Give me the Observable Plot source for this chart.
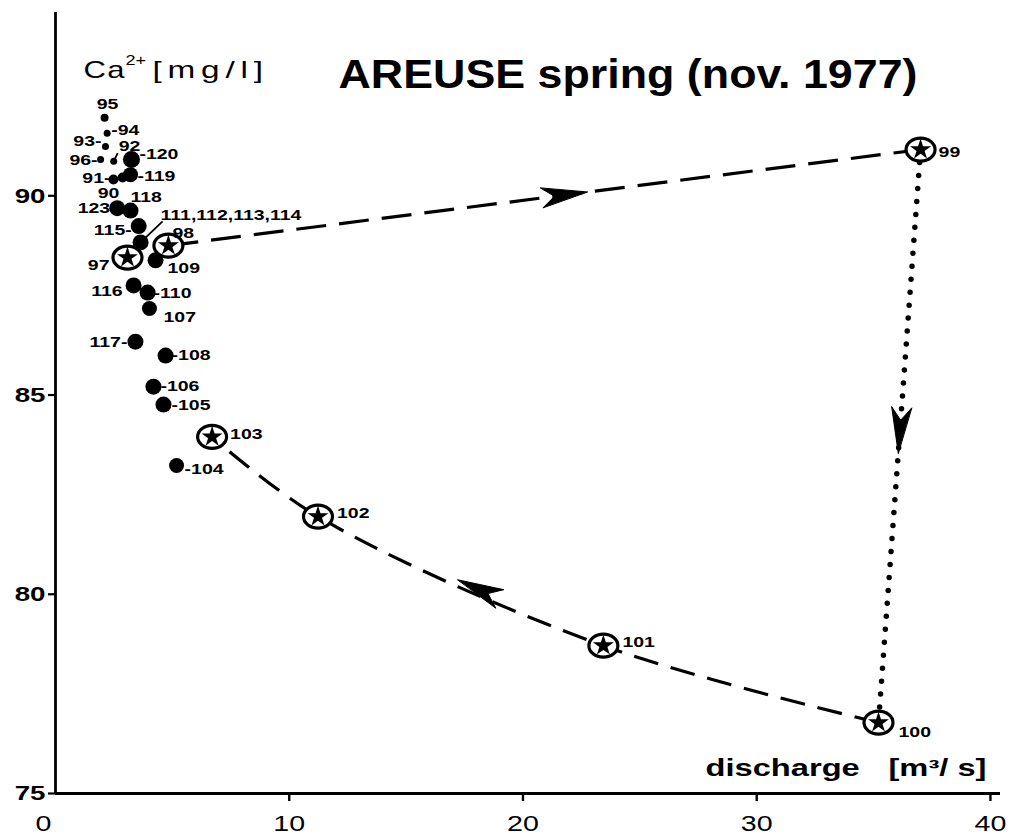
<!DOCTYPE html>
<html>
<head>
<meta charset="utf-8">
<script src="https://cdn.jsdelivr.net/npm/d3@7"></script>
<script src="https://cdn.jsdelivr.net/npm/@observablehq/plot@0.6"></script>
<style>
  html, body { margin: 0; padding: 0; background: #fff; }
  #chart svg { display: block; }
</style>
</head>
<body>
<div id="chart"></div>
<script>
// ---------------- DATA ----------------
// daily samples (sample number, discharge m3/s, Ca2+ mg/l)
const sampleIds = ["95","94","93","92","96","120","119","91","90","123","118","115","111,112,113,114","109","116","110","107","117","108","106","105","104"];
const sampleQ   = [2.10, 2.21, 2.14, 2.49, 1.93, 3.25, 3.21, 2.48, 2.87, 2.64, 3.21, 3.56, 3.64, 4.28, 3.34, 3.94, 4.02, 3.42, 4.71, 4.19, 4.62, 5.18];
const sampleCa  = [91.96, 91.57, 91.24, 90.87, 90.91, 90.91, 90.53, 90.41, 90.46, 89.69, 89.63, 89.24, 88.83, 88.38, 87.75, 87.57, 87.17, 86.34, 85.99, 85.21, 84.76, 83.23];

// flood event samples (star symbols)
const eventIds = ["97","98","99","100","101","102","103"];
const eventQ   = [3.08, 4.83, 37.01, 35.21, 23.44, 11.23, 6.70];
const eventCa  = [88.45, 88.75, 91.16, 76.78, 78.71, 81.95, 83.95];

// hysteresis loop segments
const risingLimb    = ["98", "99"];
const peakLimb      = ["99", "100"];
const recessionLimb = ["100", "101", "102", "103"];

const xTicks = [0, 10, 20, 30, 40];
const yTicks = [75, 80, 85, 90];
const titleText = "AREUSE spring (nov. 1977)";
const yLabelMain = "Ca";
const yLabelSup = "2+";
const yLabelUnit = "[mg/l]";
const xLabelMain = "discharge";
const xLabelUnit = "[m³/ s]";

// ---------------- LAYOUT / STYLE ----------------
const W = 1015, H = 838, ML = 55, MR = 15, MT = 12, MB = 45;
const xDom = [0, 40.43], yDom = [75, 94.6];
const kx = (W - ML - MR) / (xDom[1] - xDom[0]);
const ky = (H - MT - MB) / (yDom[1] - yDom[0]);
const toPx = (q, c) => [ML + (q - xDom[0]) * kx, H - MB - (c - yDom[0]) * ky];
const toData = (px, py) => [xDom[0] + (px - ML) / kx, yDom[0] + (H - MB - py) / ky];

const dotR = {"95": 4, "94": 3.5, "93": 3.5, "92": 3.5, "96": 3.5, "91": 5, "90": 5, "120": 8.5, "119": 7.5, "107": 7.5, "104": 7.5};
const bigDotR = 8;
const labelSize = 15;
// [anchor, dx px, dy px, leader]
const labelStyle = {
  "95": ["middle", 3, -14, ""], "94": ["start", 4, -3, "pre"], "93": ["end", -4, -5, "post"],
  "92": ["start", 5, -15, ""], "96": ["end", -3, 1, "post"], "120": ["start", 8, -5, "pre"],
  "119": ["start", 7, 2, "pre"], "91": ["end", -3, -1, "post"], "90": ["middle", -14, 16, ""],
  "123": ["end", -7, 0, ""], "118": ["start", 0, -13, ""], "115": ["end", -7, 4, "post"],
  "111,112,113,114": ["start", 20, -27, ""], "109": ["start", 12, 8, ""], "116": ["end", -11, 6, ""],
  "110": ["start", 6, 1, "pre"], "107": ["start", 14, 9, ""], "117": ["end", -8, 1, "post"],
  "108": ["start", 6, 0, "pre"], "106": ["start", 7, 0, "pre"], "105": ["start", 8, 1, "pre"],
  "104": ["start", 8, 4, "pre"],
  "97": ["end", -18, 8, ""], "98": ["start", 4, -12, ""], "99": ["start", 18, 3, ""],
  "100": ["start", 20, 10, ""], "101": ["start", 19, -3, ""], "102": ["start", 19, -3, ""],
  "103": ["start", 18, -3, ""]
};
// short leader strokes [id, dx px, dy px]
const leaderStyle = [["111,112,113,114", 22, -21], ["92", 4, -8]];
// arrowheads: along segment from a to b at fraction t
const arrowStyle = [
  {a: "98", b: "99", t: 0.557},
  {a: "99", b: "100", t: 0.53},
  {a: "101", b: "102", t: 0.51}
];
const arrowLen = 46, arrowWid = 20, arrowNotch = 0.72;

// ---------------- BUILD ----------------
const samples = sampleIds.map((id, i) => ({id, q: sampleQ[i], ca: sampleCa[i]}));
const events = eventIds.map((id, i) => ({id, q: eventQ[i], ca: eventCa[i]}));
const byId = new Map([...samples, ...events].map(d => [d.id, d]));
const pathOf = ids => ids.map(id => byId.get(id));

const labels = [...samples, ...events].map(d => {
  const [anchor, dx, dy, leader] = labelStyle[d.id];
  const p = toPx(d.q, d.ca);
  const [lx, ly] = toData(p[0] + dx, p[1] + dy);
  const text = leader === "pre" ? "-" + d.id : leader === "post" ? d.id + "-" : d.id;
  return {anchor, lx, ly, text};
});

const arrowPts = [];
arrowStyle.forEach((s, k) => {
  const A = toPx(byId.get(s.a).q, byId.get(s.a).ca);
  const B = toPx(byId.get(s.b).q, byId.get(s.b).ca);
  const len = Math.hypot(B[0] - A[0], B[1] - A[1]);
  const u = [(B[0] - A[0]) / len, (B[1] - A[1]) / len];
  const v = [-u[1], u[0]];
  const T = [A[0] + s.t * (B[0] - A[0]), A[1] + s.t * (B[1] - A[1])];
  const poly = [
    T,
    [T[0] - arrowLen * u[0] + arrowWid / 2 * v[0], T[1] - arrowLen * u[1] + arrowWid / 2 * v[1]],
    [T[0] - arrowNotch * arrowLen * u[0], T[1] - arrowNotch * arrowLen * u[1]],
    [T[0] - arrowLen * u[0] - arrowWid / 2 * v[0], T[1] - arrowLen * u[1] - arrowWid / 2 * v[1]]
  ];
  poly.forEach(p => { const [x, y] = toData(p[0], p[1]); arrowPts.push({k, x, y}); });
});

const leaders = leaderStyle.map(([id, dx, dy]) => {
  const d = byId.get(id);
  const p = toPx(d.q, d.ca);
  const e = toData(p[0] + dx, p[1] + dy);
  return {x1: d.q, y1: d.ca, x2: e[0], y2: e[1]};
});

const ringSymbol = {
  draw(ctx) {
    const rx = 14.5, ry = 11.5, k = 0.5523;
    ctx.moveTo(rx, 0);
    ctx.bezierCurveTo(rx, ry * k, rx * k, ry, 0, ry);
    ctx.bezierCurveTo(-rx * k, ry, -rx, ry * k, -rx, 0);
    ctx.bezierCurveTo(-rx, -ry * k, -rx * k, -ry, 0, -ry);
    ctx.bezierCurveTo(rx * k, -ry, rx, -ry * k, rx, 0);
    ctx.closePath();
  }
};

const labelFont = {fontSize: labelSize, fontWeight: "bold", fill: "black", lineAnchor: "middle"};

const chart = Plot.plot({
  width: W, height: H,
  marginLeft: ML, marginRight: MR, marginTop: MT, marginBottom: MB,
  x: {domain: xDom, axis: null},
  y: {domain: yDom, axis: null},
  r: {type: "identity"},
  style: {fontFamily: "Liberation Sans, Arial, sans-serif", color: "black", background: "white", overflow: "visible"},
  marks: [
    Plot.ruleX([0], {stroke: "black", strokeWidth: 2.8}),
    Plot.ruleY([75], {stroke: "black", strokeWidth: 2.8}),
    Plot.axisY({ticks: yTicks, tickSize: 7, tickPadding: 3, strokeWidth: 2.2, fontSize: 21, fontWeight: "bold", label: null}),
    Plot.axisX({ticks: xTicks.filter(t => t > 0), tickSize: 8, tickPadding: 14, strokeWidth: 2.4, fontSize: 22, label: null}),
    Plot.axisX({ticks: [0], tickSize: 0, tickPadding: 22, fontSize: 22, dx: -12, label: null}),
    Plot.line(pathOf(risingLimb), {x: "q", y: "ca", stroke: "black", strokeWidth: 3.2, strokeDasharray: "30 13", strokeLinecap: "butt"}),
    Plot.line(pathOf(peakLimb), {x: "q", y: "ca", stroke: "black", strokeWidth: 5.5, strokeDasharray: "0 13", strokeLinecap: "round"}),
    Plot.line(pathOf(recessionLimb), {x: "q", y: "ca", curve: "catmull-rom", stroke: "black", strokeWidth: 3.2, strokeDasharray: "25 13", strokeLinecap: "butt"}),
    Plot.line(arrowPts, {x: "x", y: "y", z: "k", fill: "black", stroke: "black", strokeWidth: 1, curve: "linear-closed"}),
    Plot.dot(events, {x: "q", y: "ca", symbol: ringSymbol, r: 12, fill: "white", stroke: "black", strokeWidth: 3.2}),
    Plot.dot(events, {x: "q", y: "ca", symbol: "star", r: 6.6, fill: "black"}),
    Plot.link(leaders, {x1: "x1", y1: "y1", x2: "x2", y2: "y2", stroke: "black", strokeWidth: 1.8}),
    Plot.dot(samples, {x: "q", y: "ca", r: d => dotR[d.id] ?? bigDotR, fill: "black"}),
    Plot.text(labels.filter(d => d.anchor === "start"), {x: "lx", y: "ly", text: "text", textAnchor: "start", ...labelFont}),
    Plot.text(labels.filter(d => d.anchor === "end"), {x: "lx", y: "ly", text: "text", textAnchor: "end", ...labelFont}),
    Plot.text(labels.filter(d => d.anchor === "middle"), {x: "lx", y: "ly", text: "text", textAnchor: "middle", ...labelFont}),
    Plot.text([titleText], {text: d => d, frameAnchor: "top-left", dx: 283, dy: 75, lineAnchor: "bottom", textAnchor: "start", fontSize: 40, fontWeight: "bold", fill: "black"}),
    Plot.text([yLabelMain], {text: d => d, frameAnchor: "top-left", dx: 28, dy: 65, lineAnchor: "bottom", textAnchor: "start", fontSize: 23, fill: "black"}),
    Plot.text([yLabelSup], {text: d => d, frameAnchor: "top-left", dx: 70, dy: 52, lineAnchor: "bottom", textAnchor: "start", fontSize: 15, fill: "black"}),
    Plot.text([yLabelUnit], {text: d => d, frameAnchor: "top-left", dx: 97, dy: 65, lineAnchor: "bottom", textAnchor: "start", fontSize: 23, fill: "black"}),
    Plot.text([xLabelMain], {text: d => d, frameAnchor: "top-left", dx: 650, dy: 763, lineAnchor: "bottom", textAnchor: "start", fontSize: 23, fontWeight: "bold", fill: "black"}),
    Plot.text([xLabelUnit], {text: d => d, frameAnchor: "top-left", dx: 833, dy: 763, lineAnchor: "bottom", textAnchor: "start", fontSize: 23, fontWeight: "bold", fill: "black"})
  ]
});
document.getElementById("chart").appendChild(chart);

// widen glyphs horizontally (about each text's own anchor) to mimic the extended typeface
const allTexts = Array.from(chart.getElementsByTagName("text"));
const sizeOf = t => {
  for (let n = t; n && n !== chart; n = n.parentNode) {
    const fs = n.getAttribute && n.getAttribute("font-size");
    if (fs) return parseFloat(fs);
  }
  return 0;
};
function widen(match, f, spacing) {
  allTexts.filter(t => match(t.textContent, sizeOf(t))).forEach(t => {
    if (spacing) t.style.letterSpacing = spacing;
    const tr = t.getAttribute("transform") || "";
    const x = parseFloat(t.getAttribute("x")) || 0;
    t.setAttribute("transform", `${tr} translate(${x},0) scale(${f},1) translate(${-x},0)`.trim());
  });
}
const yTickSet = new Set(yTicks.map(String));
const xTickSet = new Set(xTicks.map(String));
const labelTexts = new Set(labels.map(d => d.text));
widen(s => s === titleText, 1.12);
widen(s => s === yLabelMain, 1.35, "1px");
widen(s => s === yLabelSup, 1.2);
widen(s => s === yLabelUnit, 1.45, "4px");
widen(s => s === xLabelMain, 1.42);
widen(s => s === xLabelUnit, 1.42);
widen((s, fs) => fs === labelSize && labelTexts.has(s), 1.3);
widen((s, fs) => fs === 21 && yTickSet.has(s), 1.32);
widen((s, fs) => fs === 22 && xTickSet.has(s), 1.3);
</script>
</body>
</html>
